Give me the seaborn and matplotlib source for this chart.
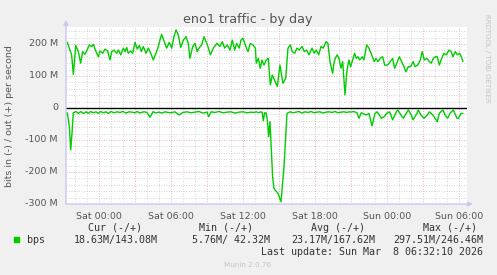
import numpy as np
import pandas as pd
import matplotlib
matplotlib.use("Agg")
import matplotlib.pyplot as plt
import seaborn as sns
from matplotlib.ticker import MultipleLocator

# ---- data (hours relative to Sat 00:00, values in Mbit/s) ----
out_hours = [-2.64, -2.42, -2.28, -2.14, -1.94, -1.72, -1.53, -1.36, -1.17, -1.03,
             -0.81, -0.61, -0.47, -0.25, -0.06, 0.08, 0.31, 0.5, 0.72, 0.92,
             1.06, 1.25, 1.47, 1.61, 1.81, 2.03, 2.17, 2.31, 2.44, 2.64,
             2.81, 3.0, 3.19, 3.36, 3.53, 3.69, 3.92, 4.11, 4.31, 4.53,
             4.75, 4.94, 5.08, 5.22, 5.42, 5.64, 5.86, 6.06, 6.25, 6.42,
             6.61, 6.81, 7.03, 7.25, 7.44, 7.58, 7.81, 8.0, 8.19, 8.33,
             8.56, 8.75, 9.08, 9.28, 9.53, 9.83, 10.08, 10.28, 10.47, 10.69,
             10.92, 11.11, 11.31, 11.47, 11.69, 11.83, 12.0, 12.19, 12.42, 12.61,
             12.83, 13.03, 13.11, 13.28, 13.44, 13.58, 13.75, 13.94, 14.11, 14.28,
             14.44, 14.56, 14.69, 14.86, 15.08, 15.33, 15.56, 15.75, 15.94, 16.11,
             16.31, 16.5, 16.69, 16.92, 17.11, 17.31, 17.5, 17.75, 17.94, 18.11,
             18.31, 18.5, 18.69, 18.92, 19.08, 19.25, 19.47, 19.58, 19.69, 19.85,
             20.0, 20.17, 20.31, 20.5, 20.67, 20.83, 20.97, 21.14, 21.3, 21.44,
             21.58, 21.72, 21.94, 22.08, 22.31, 22.5, 22.72, 22.94, 23.08, 23.25,
             23.44, 23.64, 23.81, 24.06, 24.28, 24.47, 24.64, 24.81, 25.03, 25.22,
             25.42, 25.58, 25.78, 25.97, 26.19, 26.33, 26.56, 26.78, 26.94, 27.11,
             27.33, 27.53, 27.69, 27.86, 28.03, 28.19, 28.36, 28.56, 28.75, 28.94,
             29.17, 29.36, 29.5, 29.69, 29.86, 30.06, 30.2, 30.33]
out_mbps = [205, 181, 166, 105, 195, 176, 140, 176, 168, 178,
            197, 192, 199, 176, 160, 178, 171, 184, 178, 150,
            176, 181, 171, 181, 166, 187, 176, 189, 171, 178,
            171, 205, 184, 195, 176, 192, 171, 187, 171, 150,
            171, 192, 212, 230, 209, 187, 205, 187, 223, 244,
            228, 189, 212, 223, 202, 155, 192, 202, 176, 187,
            197, 223, 192, 166, 187, 202, 192, 207, 187, 197,
            181, 212, 181, 202, 187, 212, 218, 197, 176, 202,
            197, 187, 140, 155, 124, 150, 134, 150, 155, 72,
            103, 93, 82, 67, 134, 77, 93, 187, 197, 176,
            171, 187, 181, 192, 176, 181, 166, 187, 171, 181,
            166, 192, 187, 207, 202, 145, 108, 140, 155, 166,
            155, 124, 145, 41, 119, 150, 129, 150, 171, 155,
            160, 150, 160, 150, 197, 187, 166, 145, 155, 145,
            155, 160, 134, 134, 145, 155, 124, 140, 160, 145,
            129, 113, 129, 129, 145, 129, 134, 150, 176, 150,
            155, 145, 140, 155, 160, 160, 134, 155, 171, 166,
            181, 176, 160, 176, 166, 171, 160, 145]

in_hours = [-2.64, -2.47, -2.36, -2.25, -2.14, -1.92, -1.72, -1.53, -1.31, -1.08,
            -0.89, -0.69, -0.47, -0.25, -0.06, 0.14, 0.36, 0.58, 0.78, 1.0,
            1.25, 1.5, 1.75, 2.0, 2.25, 2.5, 2.75, 3.0, 3.19, 3.42,
            3.61, 3.78, 4.0, 4.25, 4.5, 4.75, 5.0, 5.25, 5.5, 5.75,
            6.0, 6.33, 6.67, 7.0, 7.33, 7.67, 8.0, 8.33, 8.67, 9.0,
            9.14, 9.33, 9.67, 10.0, 10.33, 10.67, 11.0, 11.33, 11.67, 12.0,
            12.33, 12.67, 12.94, 13.11, 13.31, 13.47, 13.61, 13.69, 13.81, 13.92,
            14.03, 14.14, 14.25, 14.36, 14.47, 14.58, 14.67, 14.92, 15.17, 15.42,
            15.67, 15.92, 16.17, 16.42, 16.67, 16.92, 17.17, 17.42, 17.67, 17.92,
            18.17, 18.42, 18.67, 18.92, 19.17, 19.42, 19.67, 19.92, 20.17, 20.42,
            20.64, 20.83, 21.0, 21.22, 21.5, 21.67, 21.86, 22.0, 22.25, 22.5,
            22.75, 23.0, 23.19, 23.36, 23.53, 23.78, 23.97, 24.22, 24.47, 24.72,
            24.89, 25.17, 25.36, 25.61, 25.78, 26.03, 26.17, 26.5, 26.61, 26.83,
            27.08, 27.36, 27.53, 27.83, 28.0, 28.19, 28.36, 28.67, 28.83, 29.06,
            29.25, 29.53, 29.83, 29.97, 30.17, 30.33]
in_mbps = [-15, -58, -131, -79, -15, -11, -17, -11, -17, -12,
           -17, -11, -15, -12, -17, -11, -15, -12, -17, -11,
           -15, -12, -14, -11, -16, -12, -13, -15, -11, -16,
           -13, -12, -14, -29, -12, -15, -13, -16, -12, -14,
           -15, -12, -22, -14, -12, -15, -13, -11, -16, -13,
           -27, -12, -14, -11, -15, -13, -12, -16, -13, -12,
           -15, -13, -14, -12, -15, -12, -14, -40, -15, -15,
           -37, -90, -43, -131, -215, -251, -256, -267, -293, -183,
           -17, -12, -15, -13, -11, -16, -12, -14, -11, -15,
           -13, -12, -16, -13, -12, -14, -11, -15, -13, -12,
           -14, -12, -13, -11, -15, -32, -15, -17, -22, -17,
           -56, -17, -12, -22, -32, -27, -17, -12, -37, -17,
           -6, -22, -32, -17, -6, -22, -37, -17, -6, -22,
           -32, -22, -12, -22, -32, -43, -17, -6, -22, -32,
           -17, -6, -32, -32, -17, -17]

tick_hours = [0, 6, 12, 18, 24, 30]
tick_labels = ["Sat 00:00", "Sat 06:00", "Sat 12:00", "Sat 18:00", "Sun 00:00", "Sun 06:00"]
ytick_values = [-300, -200, -100, 0, 100, 200]
ytick_labels = ["-300 M", "-200 M", "-100 M", "0", "100 M", "200 M"]

legend_name = "bps"
stat_headers = ["Cur (-/+)", "Min (-/+)", "Avg (-/+)", "Max (-/+)"]
stat_values = ["18.63M/143.08M", "5.76M/ 42.32M", "23.17M/167.62M", "297.51M/246.46M"]

# ---- figure ----
sns.set_style("white")
plt.rcParams['font.family'] = ['DejaVu Sans']
BG = "#F0F0F0"
GREEN = "#00CC00"
TXT = "#555555"

fig = plt.figure(figsize=(4.97, 2.75), dpi=100, facecolor=BG)
ax = fig.add_axes([66/497, 71/275, 401/497, 177/275])
ax.set_facecolor("white")

df_out = pd.DataFrame({"hours": out_hours, "mbps": out_mbps})
df_in = pd.DataFrame({"hours": in_hours, "mbps": in_mbps})
sns.lineplot(data=df_out, x="hours", y="mbps", ax=ax, color=GREEN, lw=1.0, zorder=4)
sns.lineplot(data=df_in, x="hours", y="mbps", ax=ax, color=GREEN, lw=1.0, zorder=4)

ax.set_xlim(-2.75, 30.67)
ax.set_ylim(-300, 253)

# grid
ax.xaxis.set_major_locator(MultipleLocator(3))
ax.xaxis.set_minor_locator(MultipleLocator(1))
ax.yaxis.set_major_locator(MultipleLocator(100))
ax.yaxis.set_minor_locator(MultipleLocator(20))
ax.grid(which="minor", color="#C8C8C8", lw=0.6, ls=(0, (1, 2)), zorder=1)
ax.grid(which="major", color="#E39A9A", lw=0.6, ls=(0, (1, 2)), zorder=2)
ax.axhline(0, color="black", lw=1.0, zorder=3)

# tick labels as text (major x grid every 3h, labels every 6h)
ax.tick_params(which="both", length=0, labelbottom=False, labelleft=False)
for h, lab in zip(tick_hours, tick_labels):
    ax.text(h, -0.045, lab, transform=ax.get_xaxis_transform(), ha="center",
            va="top", fontsize=6.8, color=TXT)
for v, lab in zip(ytick_values, ytick_labels):
    ax.text(-0.02, v, lab, transform=ax.get_yaxis_transform(), ha="right",
            va="center", fontsize=6.8, color=TXT)

for s in ax.spines.values():
    s.set_visible(False)
# axis lines with arrows
ax.annotate("", xy=(0, 1.04), xytext=(0, 0), xycoords="axes fraction",
            arrowprops=dict(arrowstyle="-|>", color="#C8C8F0", lw=1.0,
                            mutation_scale=7, shrinkA=0, shrinkB=0), annotation_clip=False)
ax.annotate("", xy=(1.015, 0), xytext=(0, 0), xycoords="axes fraction",
            arrowprops=dict(arrowstyle="-|>", color="#C8C8F0", lw=1.0,
                            mutation_scale=7, shrinkA=0, shrinkB=0), annotation_clip=False)

ax.set_xlabel("")
ax.set_ylabel("")

# title and side texts
fig.text(248/497, 1 - 19/275, "eno1 traffic - by day", ha="center", va="center",
         fontsize=9.2, color=TXT)
fig.text(10/497, 1 - 116/275, "bits in (-) / out (+) per second", rotation=90,
         ha="center", va="center", fontsize=6.8, color=TXT)
fig.text(487/497, 1 - 58/275, "RRDTOOL / TOBI OETIKER", rotation=270,
         ha="center", va="center", fontsize=5.0, color="#C4C4C4")

# legend block
MONO = "DejaVu Sans Mono"
fig.patches.append(plt.Rectangle((14/497, 1 - 242/275), 5/497, 5/275,
                                 transform=fig.transFigure, color=GREEN, figure=fig))
fig.text(27/497, 1 - 240/275, legend_name, ha="left", va="center",
         fontsize=7.2, family=MONO, color="#333333")
header_right = [142, 253, 365, 477]
value_right = [158, 270, 375, 483]
for hdr, hx in zip(stat_headers, header_right):
    fig.text(hx/497, 1 - 228/275, hdr, ha="right", va="center", fontsize=7.2,
             family=MONO, color="#333333")
for val, vx in zip(stat_values, value_right):
    fig.text(vx/497, 1 - 240/275, val, ha="right", va="center", fontsize=7.2,
             family=MONO, color="#333333")
fig.text(483/497, 1 - 252/275, "Last update: Sun Mar  8 06:32:10 2026", ha="right",
         va="center", fontsize=7.2, family=MONO, color="#333333")
fig.text(248/497, 1 - 265/275, "Munin 2.0.76", ha="center", va="center",
         fontsize=5.2, color="#C4C4C4")

fig.savefig("out.png", dpi=100, facecolor=BG)
